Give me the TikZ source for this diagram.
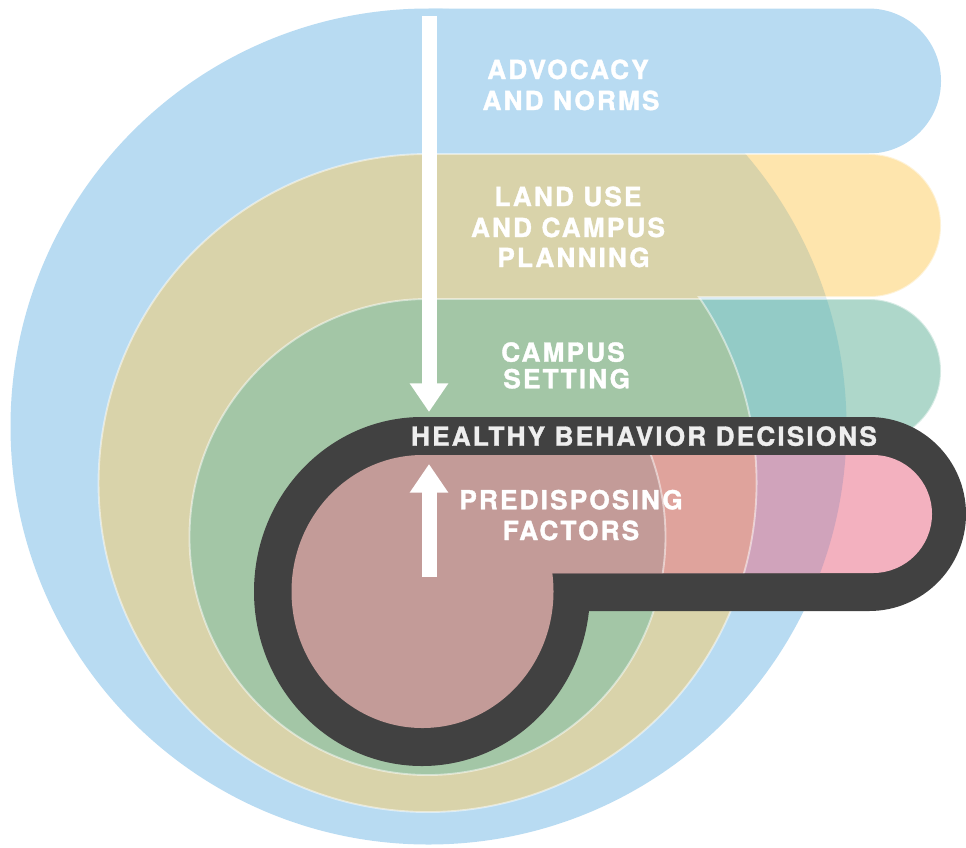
\documentclass[tikz,border=0pt]{standalone}
\usepackage{fontspec}
\usetikzlibrary{arrows.meta}
\newfontfamily\labfont{TeX Gyre Heros}[LetterSpace=8,FakeBold=1.3]
\definecolor{cblue}{HTML}{B8DBF2}
\definecolor{clyellow}{HTML}{FEE5AD}
\definecolor{ckhaki}{HTML}{D9D3AA}
\definecolor{clteal}{HTML}{AED7CA}
\definecolor{cteal}{HTML}{93CBC6}
\definecolor{cgreen}{HTML}{A3C6A6}
\definecolor{cpink}{HTML}{F3B1BF}
\definecolor{cmauve}{HTML}{D0A3BB}
\definecolor{csalmon}{HTML}{DFA39C}
\definecolor{crose}{HTML}{C39B98}
\definecolor{cdark}{HTML}{414141}
\definecolor{clight}{HTML}{EEEEEE}
\newcommand\pBlueC{(428.5,426.5) circle[radius=418]}
\newcommand\pBlueB{(428.5,8.5) -- (868.5,8.5) arc[start angle=-90,end angle=90,radius=72.5] -- (428.5,153.5) -- cycle}
\newcommand\pYelC{(427.5,483) circle[radius=329]}
\newcommand\pYelB{(427.5,154) -- (869.5,154) arc[start angle=-90,end angle=90,radius=71.5] -- (427.5,297) -- cycle}
\newcommand\pYelO{(427.5,154) -- (869.5,154) arc[start angle=-90,end angle=90,radius=71.5] -- (698.9,297) arc[start angle=-34.43,end angle=270,radius=329] -- cycle}
\newcommand\pGrnC{(427.5,537) circle[radius=238]}
\newcommand\pGrnB{(427.5,299) -- (869,299) arc[start angle=-90,end angle=90,radius=72] -- (427.5,443) -- cycle}
\newcommand\pGrnO{(427.5,299) -- (869,299) arc[start angle=-90,end angle=90,radius=72] -- (646.1,443) arc[start angle=-23.26,end angle=270,radius=238] -- cycle}
\newcommand\pDarkE{(422,591.5) ellipse[x radius=168,y radius=174.5]}
\newcommand\pDarkB{(422,417) -- (869,417) arc[start angle=-90,end angle=90,radius=97] -- (422,611) -- cycle}
\newcommand\pPinkE{(422.5,591.5) ellipse[x radius=131,y radius=136.5]}
\newcommand\pPinkB{(422.5,455) -- (873,455) arc[start angle=-90,end angle=90,radius=59] -- (422.5,573) -- cycle}
\begin{document}
\begin{tikzpicture}[x=0.75pt,y=-0.75pt,
  lab/.style={text=white,font=\labfont\bfseries\fontsize{19.7}{23}\selectfont,anchor=base,inner sep=0pt},
  edgeline/.style={draw=white,draw opacity=0.5,line width=1.4pt},
  bigarrow/.style={draw=white,line width=11.25pt,line cap=butt,-{Triangle[width=27.5pt,length=21.5pt]}}]
\useasboundingbox (0,0) rectangle (966,847);
% advocacy layer
\fill[cblue] \pBlueC;
\fill[cblue] \pBlueB;
% land use layer
\fill[clyellow] \pYelB;
\begin{scope}\clip \pBlueC; \fill[ckhaki] \pYelB; \end{scope}
\fill[ckhaki] \pYelC;
% campus setting layer
\fill[clteal] \pGrnB;
\begin{scope}\clip \pBlueC; \fill[cteal] \pGrnB; \end{scope}
\begin{scope}\clip \pYelC; \fill[cgreen] \pGrnB; \end{scope}
\fill[cgreen] \pGrnC;
\draw[edgeline] \pYelO;
\draw[edgeline] \pGrnO;
% healthy behavior decisions ring
\fill[cdark] \pDarkE;
\fill[cdark] \pDarkB;
% predisposing factors
\fill[cpink] \pPinkB;
\begin{scope}\clip \pBlueC; \fill[cmauve] \pPinkB; \end{scope}
\begin{scope}\clip \pYelC; \fill[csalmon] \pPinkB; \end{scope}
\begin{scope}\clip \pGrnC; \fill[crose] \pPinkB; \end{scope}
\fill[crose] \pPinkE;
\begin{scope}\clip \pPinkB; \draw[edgeline] \pYelO; \draw[edgeline] \pGrnO; \end{scope}
% arrows
\coordinate (dtop) at (429,16);
\coordinate (dtip) at (429,412);
\coordinate (ubot) at (429,577);
\coordinate (utip) at (429,464);
\draw[bigarrow] (dtop) -- (dtip);
\draw[bigarrow] (ubot) -- (utip);
% labels
\node[lab] (adv1) at (568,79) {ADVOCACY};
\node[lab] (adv2) at (571,110) {AND NORMS};
\node[lab] (land1) at (568,206) {LAND USE};
\node[lab] (land2) at (568,237) {AND CAMPUS};
\node[lab] (land3) at (573.5,267) {PLANNING};
\node[lab] (camp1) at (563,361.7) {CAMPUS};
\node[lab] (camp2) at (566.7,388.3) {SETTING};
\node[lab,text=clight] (hbd) at (644,445.7) {HEALTHY BEHAVIOR DECISIONS};
\node[lab] (pre1) at (571,509.3) {PREDISPOSING};
\node[lab] (pre2) at (571,540) {FACTORS};
\end{tikzpicture}
\end{document}
